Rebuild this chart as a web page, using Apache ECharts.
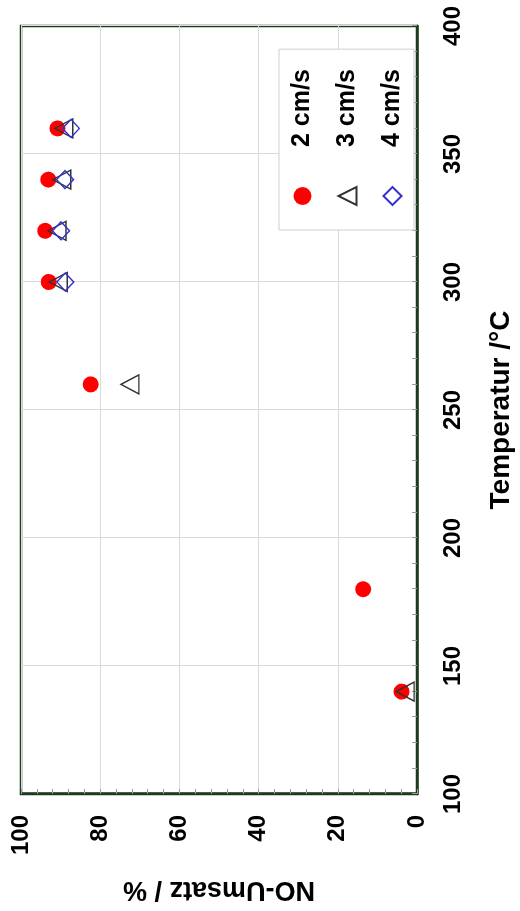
<!DOCTYPE html>
<html>
<head>
<meta charset="utf-8">
<script src="https://cdn.jsdelivr.net/npm/echarts@6/dist/echarts.min.js"></script>
<style>
  html, body { margin: 0; padding: 0; background: #ffffff; overflow: hidden; }
  body { width: 520px; height: 911px; position: relative; }
  /* the plot is laid out landscape and turned a quarter turn counter-clockwise */
  #chart {
    position: absolute; left: 0; top: 0;
    width: 911px; height: 520px;
    transform-origin: 0 0;
    transform: translate(0px, 911px) rotate(-90deg);
  }
</style>
</head>
<body>
<div id="chart"></div>
<script>
// NO conversion versus temperature for three gas velocities
const seriesNames = ['2 cm/s', '3 cm/s', '4 cm/s'];

const temp2 = [140, 180, 260, 300, 320, 340, 360];
const conv2 = [3.9, 13.6, 82.4, 93.0, 93.9, 93.1, 90.8];

const temp3 = [140, 260, 300, 320, 340, 360];
const conv3 = [3.0, 72.5, 90.6, 90.9, 89.7, 89.2];

const temp4 = [300, 320, 340, 360];
const conv4 = [88.8, 89.9, 88.9, 87.4];

const tempTicks = [100, 150, 200, 250, 300, 350, 400];
const convTicks = [0, 20, 40, 60, 80, 100];

const pairs = (xs, ys) => xs.map((x, i) => [x, ys[i]]);

const frameColor = '#1d3b1d';
const labelFont = { fontFamily: 'Liberation Sans, Arial, sans-serif', fontWeight: 'bold', color: '#000' };

const chart = echarts.init(document.getElementById('chart'), null, { renderer: 'canvas' });

chart.setOption({
  animation: false,
  backgroundColor: '#ffffff',
  grid: {
    left: 117, right: 26, top: 21, bottom: 101,
    show: true, borderColor: frameColor, borderWidth: 2.5, backgroundColor: '#ffffff'
  },
  legend: {
    orient: 'vertical',
    left: 681, top: 279,
    padding: [11, 20, 9, 24],
    itemWidth: 18, itemHeight: 18, itemGap: 20,
    backgroundColor: '#ffffff',
    borderColor: '#cfcfcf', borderWidth: 1, borderRadius: 0,
    data: seriesNames,
    textStyle: Object.assign({ fontSize: 25, lineHeight: 24, padding: [0, 0, 0, 35] }, labelFont)
  },
  xAxis: {
    type: 'value',
    min: tempTicks[0], max: tempTicks[tempTicks.length - 1], interval: 50,
    name: 'Temperatur /°C',
    nameLocation: 'middle', nameGap: 70,
    nameTextStyle: Object.assign({ fontSize: 28 }, labelFont),
    axisLine: { show: true, onZero: false, lineStyle: { color: frameColor, width: 2.5 } },
    axisTick: { show: true, inside: true, length: 5, lineStyle: { color: '#999' } },
    minorTick: { show: true, splitNumber: 5, length: 5, lineStyle: { color: '#999' } },
    axisLabel: Object.assign({ fontSize: 24, margin: 24 }, labelFont),
    splitLine: { show: true, lineStyle: { color: '#dadada', width: 1 } }
  },
  yAxis: {
    type: 'value',
    min: convTicks[0], max: convTicks[convTicks.length - 1], interval: 20,
    name: 'NO-Umsatz / %',
    nameLocation: 'middle', nameGap: 82,
    nameTextStyle: Object.assign({ fontSize: 27 }, labelFont),
    axisLine: { show: true, onZero: false, lineStyle: { color: frameColor, width: 2.5 } },
    axisTick: { show: true, inside: true, length: 5, lineStyle: { color: '#999' } },
    minorTick: { show: true, splitNumber: 5, length: 5, lineStyle: { color: '#999' } },
    axisLabel: Object.assign({ fontSize: 24, margin: 21 }, labelFont),
    splitLine: { show: true, lineStyle: { color: '#dadada', width: 1 } }
  },
  series: [
    {
      name: seriesNames[0], type: 'scatter', z: 3,
      symbol: 'circle', symbolSize: 16,
      itemStyle: { color: '#ff0000', opacity: 1 },
      data: pairs(temp2, conv2)
    },
    {
      name: seriesNames[1], type: 'scatter', z: 4,
      symbol: 'triangle', symbolSize: [19, 18],
      itemStyle: { color: 'rgba(255,255,255,0)', borderColor: '#333333', borderWidth: 1.4, opacity: 1 },
      data: pairs(temp3, conv3)
    },
    {
      name: seriesNames[2], type: 'scatter', z: 5,
      symbol: 'diamond', symbolSize: [18, 17],
      itemStyle: { color: 'rgba(255,255,255,0)', borderColor: '#3333cc', borderWidth: 1.4, opacity: 1 },
      data: pairs(temp4, conv4)
    }
  ]
});
</script>
</body>
</html>
